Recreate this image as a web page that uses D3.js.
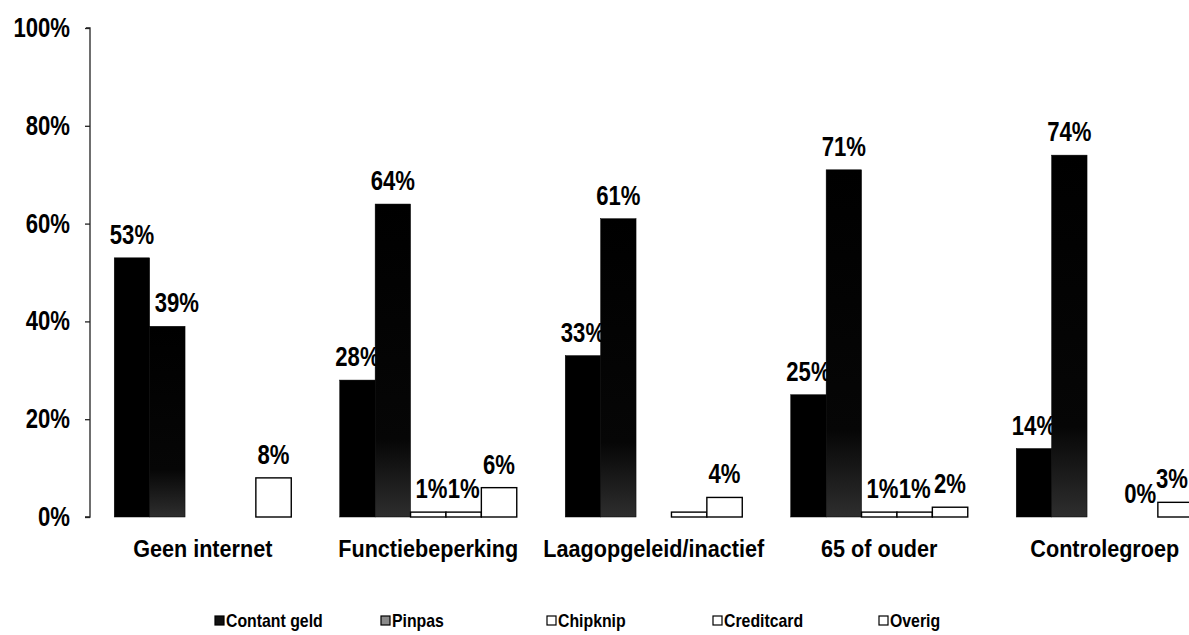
<!DOCTYPE html>
<html>
<head>
<meta charset="utf-8">
<script src="https://cdn.jsdelivr.net/npm/d3@7"></script>
<style>
  html, body { margin: 0; padding: 0; background: #fff; }
  svg { display: block; }
  text { font-family: "Liberation Sans", Arial, sans-serif; font-weight: bold; fill: #000; }
</style>
</head>
<body>
<svg id="chart" width="1189" height="635"></svg>
<script>
// ---- data ----
const categories = ["Geen internet", "Functiebeperking", "Laagopgeleid/inactief", "65 of ouder", "Controlegroep"];
const seriesNames = ["Contant geld", "Pinpas", "Chipknip", "Creditcard", "Overig"];
const contantGeld = [53, 28, 33, 25, 14];
const pinpas      = [39, 64, 61, 71, 74];
const chipknip    = [0, 1, 0, 1, 0];
const creditcard  = [0, 1, 1, 1, 0];
const overig      = [8, 6, 4, 2, 3];
// which data labels are printed in the original
const contantGeldShown = [true, true, true, true, true];
const pinpasShown      = [true, true, true, true, true];
const chipknipShown    = [false, true, false, true, false];
const creditcardShown  = [false, true, false, true, true];
const overigShown      = [true, true, true, true, true];
const yTicks = [0, 20, 40, 60, 80, 100];

const seriesValues = [contantGeld, pinpas, chipknip, creditcard, overig];
const seriesShown = [contantGeldShown, pinpasShown, chipknipShown, creditcardShown, overigShown];

// ---- layout ----
const W = 1189;
const svg = d3.select("#chart");
const axisX = 90, y0 = 517, y100 = 28;
const step = 225.5;
const labelScale = 0.82, labelSize = 27, labelGap = 14;

const defs = svg.append("defs");
const grad = defs.append("linearGradient").attr("id", "pinGrad")
  .attr("x1", 0).attr("y1", 0).attr("x2", 0).attr("y2", 1);
grad.append("stop").attr("offset", "0%").attr("stop-color", "#000");
grad.append("stop").attr("offset", "75%").attr("stop-color", "#060606");
grad.append("stop").attr("offset", "100%").attr("stop-color", "#2e2e2e");

const fills = ["#000", "url(#pinGrad)", "#fff", "#fff", "#fff"];
const legendFills = ["#111", "#8a8a8a", "#fff", "#fff", "#fff"];

const x0 = d3.scaleBand()
  .domain(categories)
  .range([axisX, axisX + step * categories.length])
  .paddingInner(0.215)
  .paddingOuter(0.1075);

const x1 = d3.scaleBand()
  .domain(seriesNames)
  .range([0, x0.bandwidth()])
  .padding(0);

const y = d3.scaleLinear().domain([0, 100]).range([y0, y100]);

// ---- y axis ----
const yAxis = d3.axisLeft(y).tickValues(yTicks).tickSize(5).tickFormat("");
const gAxis = svg.append("g").attr("transform", `translate(${axisX},0)`).call(yAxis);
gAxis.select(".domain").attr("stroke", "#222").attr("stroke-width", 1.3).attr("d", `M-4,${y100}H0V${y0}H-5`);
gAxis.selectAll(".tick line").attr("stroke", "#222").attr("stroke-width", 1.3);

svg.append("g").selectAll("text").data(yTicks).join("text")
  .attr("transform", d => `translate(70,${y(d) + 9}) scale(${labelScale},1)`)
  .attr("text-anchor", "end")
  .style("font-size", labelSize + "px")
  .text(d => d + "%");

// ---- bars and labels, series by series ----
const plot = svg.append("g");
seriesNames.forEach((name, si) => {
  const vals = seriesValues[si];
  const shown = seriesShown[si];
  const g = plot.append("g");
  g.selectAll("rect").data(categories.map((c, ci) => ({ c, v: vals[ci] })))
    .join("rect")
    .attr("x", d => x0(d.c) + x1(name))
    .attr("y", d => y(d.v))
    .attr("width", x1.bandwidth())
    .attr("height", d => y0 - y(d.v))
    .attr("fill", fills[si])
    .attr("stroke", "#000")
    .attr("stroke-width", si >= 2 ? 1.4 : 0.5);
  const labels = g.selectAll("text")
    .data(categories.map((c, ci) => ({ c, ci, v: vals[ci], s: shown[ci] })).filter(d => d.s))
    .join("text")
    .attr("text-anchor", "start")
    .style("font-size", labelSize + "px")
    .text(d => d.v + "%");
  labels.each(function (d) {
    const w = this.getComputedTextLength() * labelScale;
    const cx = x0(d.c) + x1(name) + x1.bandwidth() / 2;
    let left = cx - w / 2;
    const base = y(d.v) - labelGap;
    // avoid sitting on a taller neighbouring bar to the left
    if (si > 0) {
      const prevV = seriesValues[si - 1][d.ci];
      const prevRight = x0(d.c) + x1(seriesNames[si - 1]) + x1.bandwidth();
      if (y(prevV) < base && left < prevRight + 2) left = prevRight + 5;
    }
    // keep inside the picture
    if (left + w > W - 1) left = W - 1 - w;
    d3.select(this).attr("transform", `translate(${left},${base}) scale(${labelScale},1)`);
  });
});

// ---- category labels ----
svg.append("g").selectAll("text").data(categories).join("text")
  .attr("transform", d => `translate(${x0(d) + x0.bandwidth() / 2},557) scale(0.9,1)`)
  .attr("text-anchor", "middle")
  .style("font-size", "24px")
  .text(d => d);

// ---- legend ----
const legendStart = 215, legendStep = 166;
const lg = svg.append("g").selectAll("g").data(seriesNames).join("g")
  .attr("transform", (d, i) => `translate(${legendStart + i * legendStep},627)`);
lg.append("rect")
  .attr("x", 0).attr("y", -11).attr("width", 9).attr("height", 9)
  .attr("fill", (d, i) => legendFills[i])
  .attr("stroke", "#000").attr("stroke-width", 1.2);
lg.append("text")
  .attr("transform", "translate(11,0) scale(0.88,1)")
  .style("font-size", "18px")
  .text(d => d);
</script>
</body>
</html>
